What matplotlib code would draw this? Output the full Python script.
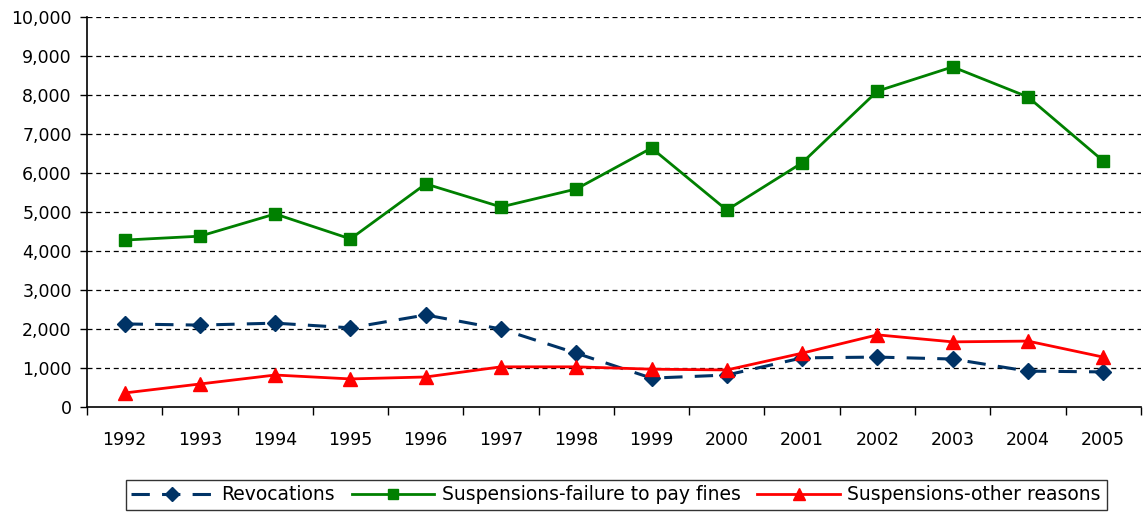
import matplotlib
matplotlib.use("Agg")
import matplotlib.pyplot as plt
from matplotlib.ticker import FuncFormatter, FixedLocator

plt.rcParams['font.family'] = ['DejaVu Sans']

years = ['1992', '1993', '1994', '1995', '1996', '1997', '1998',
         '1999', '2000', '2001', '2002', '2003', '2004', '2005']
revocations = [2130, 2100, 2150, 2030, 2360, 2000, 1380,
               740, 820, 1260, 1280, 1230, 920, 900]
susp_fines = [4280, 4380, 4950, 4310, 5720, 5130, 5590,
              6640, 5050, 6260, 8100, 8720, 7950, 6310]
susp_other = [360, 590, 820, 720, 770, 1030, 1030,
              970, 950, 1380, 1850, 1670, 1690, 1280]

fig = plt.figure(figsize=(11.43, 5.15), dpi=100)
ax = fig.add_axes([0.0761, 0.2097, 0.922, 0.7573])

x = list(range(len(years)))
ax.plot(x, revocations, color='#003366', lw=2.2, dashes=(6, 4),
        marker='D', ms=8, mfc='#003366', mec='#003366', label='Revocations', zorder=3)
ax.plot(x, susp_fines, color='#008000', lw=2, marker='s', ms=9,
        mfc='#008000', mec='#008000', label='Suspensions-failure to pay fines', zorder=3)
ax.plot(x, susp_other, color='#ff0000', lw=2, marker='^', ms=10,
        mfc='#ff0000', mec='#ff0000', label='Suspensions-other reasons', zorder=3)

ax.set_xlim(-0.5, len(years) - 0.5)
ax.set_ylim(0, 10000)
ax.set_yticks(range(0, 10001, 1000))
ax.yaxis.set_major_formatter(FuncFormatter(lambda v, p: f'{int(v):,}'))
for yv in range(1000, 10001, 1000):
    ax.axhline(yv, color='black', lw=0.9, ls=(0, (4, 3)), zorder=1)

ax.set_xticks(x)
ax.set_xticklabels(years)
ax.tick_params(axis='x', which='major', length=0, pad=17, labelsize=12.5)
ax.xaxis.set_minor_locator(FixedLocator([i - 0.5 for i in range(len(years) + 1)]))
ax.tick_params(axis='x', which='minor', length=6, width=1, direction='out')
ax.tick_params(axis='y', length=5, width=1, direction='out', labelsize=12.5, pad=6)

for s in ['top', 'right']:
    ax.spines[s].set_visible(False)
ax.spines['left'].set_linewidth(1.2)
ax.spines['bottom'].set_linewidth(1.2)

leg = fig.legend(loc='center', bbox_to_anchor=(0.539, 0.039), ncol=3,
                 frameon=True, fancybox=False, edgecolor='black',
                 fontsize=13.5, handlelength=4.4, columnspacing=0.9,
                 handletextpad=0.4, borderpad=0.3, borderaxespad=0,
                 markerscale=0.85)
leg.get_frame().set_linewidth(1.0)

fig.savefig('out.png', dpi=100)
